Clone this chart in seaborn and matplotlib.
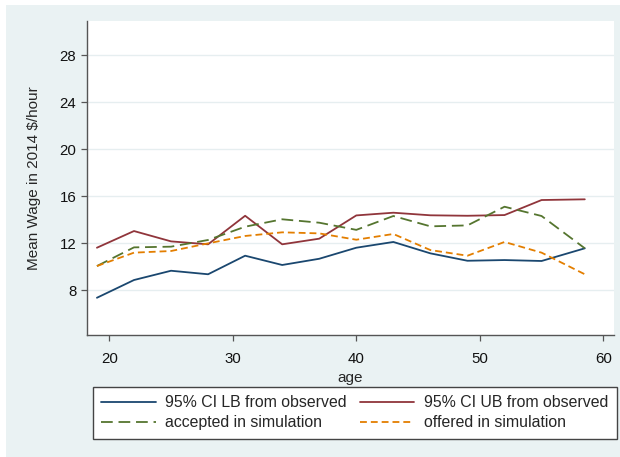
import numpy as np
import pandas as pd
import matplotlib.pyplot as plt
import matplotlib.patches as patches
import seaborn as sns

# values
age = [19, 22, 25, 28, 31, 34, 37, 40, 43, 46, 49, 52, 55, 58.5]
ci_lb = [7.34, 8.85, 9.64, 9.34, 10.92, 10.13, 10.66, 11.6, 12.09, 11.12, 10.49, 10.55, 10.47, 11.55]
ci_ub = [11.6, 13.02, 12.14, 11.89, 14.32, 11.89, 12.37, 14.35, 14.58, 14.36, 14.32, 14.38, 15.66, 15.72]
accepted = [10.04, 11.63, 11.69, 12.26, 13.39, 14.02, 13.73, 13.12, 14.3, 13.42, 13.5, 15.09, 14.3, 11.55]
offered = [10.04, 11.18, 11.32, 11.97, 12.6, 12.91, 12.82, 12.28, 12.77, 11.4, 10.92, 12.09, 11.18, 9.34]

names = ["95% CI LB from observed", "95% CI UB from observed",
         "accepted in simulation", "offered in simulation"]
y_ticks = [8, 12, 16, 20, 24, 28]
x_ticks = [20, 30, 40, 50, 60]

df = pd.DataFrame({
    "age": age * 4,
    "wage": ci_lb + ci_ub + accepted + offered,
    "series": [n for n in names for _ in age],
})

sns.set_style("white")
plt.rcParams['font.family'] = ['Liberation Sans', 'DejaVu Sans']
plt.rcParams['font.size'] = 11

bg = "#eaf2f3"
fig = plt.figure(figsize=(6.2, 4.57), dpi=100, facecolor=bg)
# thin white strips on the left and top, as in the reference
fig.patches.append(patches.Rectangle((0, 0), 6 / 620, 1, transform=fig.transFigure,
                                     facecolor="white", edgecolor="none"))
fig.patches.append(patches.Rectangle((0, (457 - 5) / 457), 1, 1, transform=fig.transFigure,
                                     facecolor="white", edgecolor="none"))
ax = fig.add_axes([87.3 / 620, (457 - 335) / 457, 526.4 / 620, 314 / 457])
ax.set_facecolor("white")

colors = {names[0]: "#1a476f", names[1]: "#90353b",
          names[2]: "#55752f", names[3]: "#e37e00"}
dashes = {names[0]: "", names[1]: "", names[2]: (6.5, 3.2), names[3]: (3.8, 2.2)}

sns.lineplot(data=df, x="age", y="wage", hue="series", style="series",
             hue_order=names, style_order=names, palette=colors, dashes=dashes,
             linewidth=1.3, legend=False, ax=ax)

ax.set_xlim(18.22, 60.84)
ax.set_ylim(4.17, 30.9)
ax.set_xticks(x_ticks)
ax.set_yticks(y_ticks)
ax.yaxis.grid(True, color="#e6eef0", linewidth=1.0)
ax.set_axisbelow(True)
for s in ["top", "right"]:
    ax.spines[s].set_visible(False)
for s in ["left", "bottom"]:
    ax.spines[s].set_color("#555555")
    ax.spines[s].set_linewidth(1.0)
ax.tick_params(axis="both", direction="out", length=4.5, width=0.9,
               bottom=True, left=True,
               color="#555555", labelcolor="#111111", labelsize=10.8)
ax.tick_params(axis="x", pad=7.5)
ax.tick_params(axis="y", pad=3.5)
ax.set_xlabel("age", fontsize=11, labelpad=4)
ax.set_ylabel("Mean Wage in 2014 $/hour", fontsize=11, labelpad=13)

lines = ax.get_lines()
leg = fig.legend([lines[0], lines[2], lines[1], lines[3]],
                 [names[0], names[2], names[1], names[3]],
                 ncol=2, loc="upper left",
                 bbox_to_anchor=(92.7 / 620, (457 - 386.7) / 457),
                 fancybox=False, framealpha=1, edgecolor="#444444",
                 handlelength=3.42, handletextpad=0.61, labelspacing=0.32,
                 borderaxespad=0, fontsize=11.4, borderpad=0.55, columnspacing=0.82)
leg.get_frame().set_linewidth(1.0)

plt.savefig("out.png", dpi=100, facecolor=bg)
